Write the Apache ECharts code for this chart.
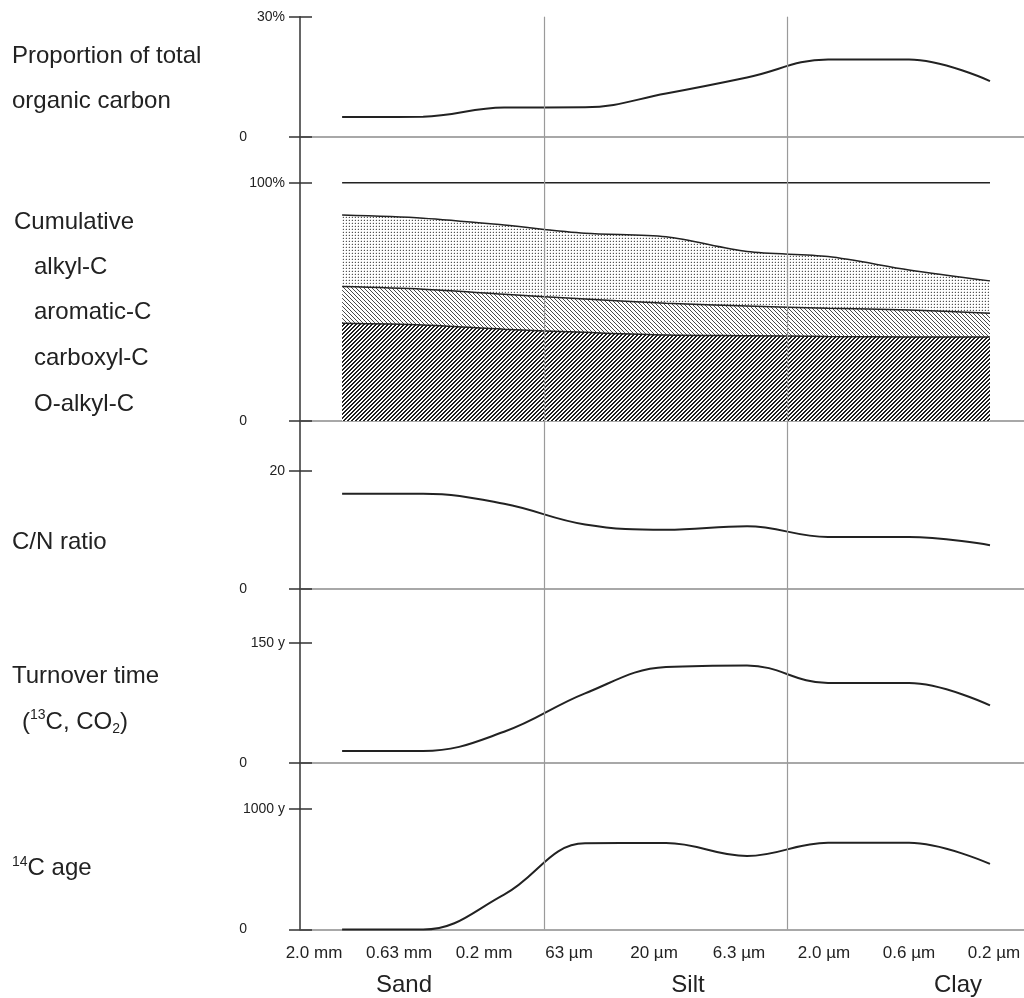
<!DOCTYPE html>
<html>
<head>
<meta charset="utf-8">
<script src="https://cdn.jsdelivr.net/npm/echarts@6/dist/echarts.min.js"></script>
<style>
html,body{margin:0;padding:0;background:#fff;}
#chart{width:1024px;height:998px;}
</style>
</head>
<body>
<div id="chart"></div>
<script>
// ---- data ----
const sizeLabels = ['2.0 mm', '0.63 mm', '0.2 mm', '63 µm', '20 µm', '6.3 µm', '2.0 µm', '0.6 µm', '0.2 µm'];
const fractionIndex = [0, 1, 2, 3, 4, 5, 6, 7, 8];
const classNames = ['Sand', 'Silt', 'Clay'];
const classBoundaries = [2.5, 5.5];

const tocShare = [4.9, 5.0, 7.3, 7.35, 10.8, 14.8, 19.3, 19.3, 13.9];           // % of total OC
// cumulative carbon species, % (read as the boundary lines of the bands)
const cumAlkylC = [100, 100, 100, 100, 100, 100, 100, 100, 100];
const cumAromaticC = [86.4, 85.1, 82.2, 78.8, 77.3, 71.1, 69.0, 63.4, 58.8];
const cumCarboxylC = [56.4, 55.3, 53.2, 51.2, 49.4, 48.3, 47.3, 46.6, 45.2];
const cumOAlkylC = [41.0, 40.3, 38.5, 37.2, 36.1, 35.8, 35.5, 35.3, 35.2];
const cnRatio = [16.1, 16.1, 14.4, 10.9, 10.0, 10.6, 8.8, 8.8, 7.4];
const turnoverYears = [15, 15, 39, 87, 120, 122, 100, 100, 72];
const c14AgeYears = [0, 0, 290, 715, 718, 610, 720, 720, 544];

const yTicks = [[0, 30], [0, 100], [0, 20], [0, 150], [0, 1000]];
const yTopLabels = ['30%', '100%', '20', '150 y', '1000 y'];

// ---- patterns ----
function makeTile(w, h, draw) {
  const c = document.createElement('canvas');
  c.width = w; c.height = h;
  const ctx = c.getContext('2d');
  ctx.fillStyle = '#ffffff';
  ctx.fillRect(0, 0, w, h);
  draw(ctx);
  return { image: c, repeat: 'repeat' };
}
const dotPattern = makeTile(3, 3, ctx => {
  ctx.fillStyle = '#555555';
  ctx.fillRect(1, 1, 1, 1);
  ctx.fillStyle = '#dddddd';
  ctx.fillRect(0, 1, 1, 1);
  ctx.fillRect(1, 0, 1, 1);
});
const lightHatch = makeTile(4, 4, ctx => {
  ctx.fillStyle = '#4a4a4a';
  for (let i = 0; i < 4; i++) ctx.fillRect(i, i, 1, 1);
});
const darkHatch = makeTile(4, 4, ctx => {
  ctx.fillStyle = '#1e1e1e';
  for (let i = 0; i < 4; i++) {
    ctx.fillRect(i, 3 - i, 1, 1);
    ctx.fillRect(i, (4 - i) % 4, 1, 1);
  }
});

// ---- layout ----
const panels = [
  { top: 16.7, height: 120, max: 30 },
  { top: 136.7, height: 284.3, max: 119.3 },
  { top: 421, height: 168, max: 28.4 },
  { top: 589, height: 174, max: 217.5 },
  { top: 763, height: 166.5, max: 1381.7 }
];
const font = 'Liberation Sans, Arial, sans-serif';
const ink = '#222';
const boundaryColor = '#9a9a9a';

const grid = panels.map(p => ({ left: 300, width: 724, top: p.top, height: p.height }));
grid.push({ left: 314, right: 30, top: 763, height: 166.5 });

const xAxis = panels.map((p, i) => ({
  type: 'value', gridIndex: i, min: -0.52, max: 8.42,
  axisLine: { show: true, onZero: true, lineStyle: { color: '#8c8c8c', width: 1.5 } },
  axisTick: { show: false }, axisLabel: { show: false }, splitLine: { show: false }
}));
xAxis.push({
  type: 'category', gridIndex: 5, data: sizeLabels, boundaryGap: false,
  axisLine: { show: false }, axisTick: { show: false },
  axisLabel: { show: true, interval: 0, fontSize: 17, fontFamily: font, color: ink, margin: 15 }
});

const yAxis = [];
panels.forEach((p, i) => {
  yAxis.push({
    type: 'value', gridIndex: i, min: 0, max: p.max, position: 'left',
    axisLine: { show: true, onZero: false, lineStyle: { color: '#333', width: 1.5 } },
    axisTick: { show: true, customValues: yTicks[i], length: 11, lineStyle: { color: '#333', width: 1.5 } },
    axisLabel: {
      show: true, customValues: yTicks[i], margin: 15, fontSize: 14, fontFamily: font, color: ink,
      formatter: v => v === 0 ? '{z|0}' : yTopLabels[i],
      rich: { z: { padding: [0, 38, 0, 0], fontSize: 14, fontFamily: font, color: ink } }
    },
    splitLine: { show: false }
  });
  yAxis.push({
    type: 'value', gridIndex: i, min: 0, max: p.max, position: 'left', offset: 0,
    axisLine: { show: false, onZero: false },
    axisTick: { show: true, inside: true, customValues: yTicks[i], length: 12, lineStyle: { color: '#333', width: 1.5 } },
    axisLabel: { show: false }, splitLine: { show: false }
  });
});
yAxis.push({ type: 'value', gridIndex: 5, show: false, min: 0, max: 1 });

const boundaryMark = {
  silent: true, symbol: ['none', 'none'], animation: false,
  label: { show: false },
  lineStyle: { color: boundaryColor, width: 1.2, type: 'solid' },
  data: classBoundaries.map(b => ({ xAxis: b }))
};

const pairs = arr => arr.map((v, k) => [fractionIndex[k], v]);
function lineSeries(idx, data, extra) {
  return Object.assign({
    type: 'line', xAxisIndex: idx, yAxisIndex: idx * 2, data: pairs(data),
    smooth: 0.4, symbol: 'none', clip: false,
    lineStyle: { color: ink, width: 2 }, markLine: boundaryMark
  }, extra || {});
}
const bandLine = { color: ink, width: 1.5 };

const series = [
  lineSeries(0, tocShare, { name: 'Proportion of total organic carbon' }),
  lineSeries(1, cumAlkylC, { name: 'alkyl-C', z: 2, markLine: undefined, lineStyle: bandLine }),
  lineSeries(1, cumAromaticC, { name: 'aromatic-C', z: 3, smooth: 0.3, markLine: undefined,
    lineStyle: bandLine, areaStyle: { color: dotPattern, opacity: 1, origin: 'start' } }),
  lineSeries(1, cumCarboxylC, { name: 'carboxyl-C', z: 4, smooth: 0.3, markLine: undefined,
    lineStyle: bandLine, areaStyle: { color: lightHatch, opacity: 1, origin: 'start' } }),
  lineSeries(1, cumOAlkylC, { name: 'O-alkyl-C', z: 5, smooth: 0.3, markLine: undefined,
    lineStyle: bandLine, areaStyle: { color: darkHatch, opacity: 1, origin: 'start' } }),
  lineSeries(2, cnRatio, { name: 'C/N ratio' }),
  lineSeries(3, turnoverYears, { name: 'Turnover time' }),
  lineSeries(4, c14AgeYears, { name: '14C age' })
];
// class boundaries over the cumulative bands (panel 2)
classBoundaries.forEach(b => {
  series.push({
    type: 'line', xAxisIndex: 1, yAxisIndex: 2, z: 10, silent: true,
    data: [[b, 0], [b, panels[1].max]], symbol: 'none', clip: false,
    lineStyle: { color: boundaryColor, width: 1.2 }
  });
});

function txt(x, y, text, opts) {
  return {
    type: 'text', x: x, y: y, silent: true,
    style: Object.assign({
      text: text, fontSize: 24, fontFamily: font, fill: ink, verticalAlign: 'middle',
      rich: {
        sup: { fontSize: 14, fontFamily: font, fill: ink, verticalAlign: 'top', padding: [0, 0, 12, 0] },
        sub: { fontSize: 14, fontFamily: font, fill: ink, padding: [14, 0, 0, 0] }
      }
    }, opts || {})
  };
}
const graphic = [
  txt(12, 56, 'Proportion of total'),
  txt(12, 101, 'organic carbon'),
  txt(14, 222, 'Cumulative'),
  txt(34, 267, 'alkyl-C'),
  txt(34, 312, 'aromatic-C'),
  txt(34, 358, 'carboxyl-C'),
  txt(34, 404, 'O-alkyl-C'),
  txt(12, 542, 'C/N ratio'),
  txt(12, 676, 'Turnover time'),
  txt(22, 722, '({sup|13}C, CO{sub|2})'),
  txt(12, 868, '{sup|14}C age'),
  txt(404, 985, classNames[0], { align: 'center' }),
  txt(688, 985, classNames[1], { align: 'center' }),
  txt(958, 985, classNames[2], { align: 'center' })
];

const chart = echarts.init(document.getElementById('chart'), null, { renderer: 'canvas' });
chart.setOption({
  animation: false,
  backgroundColor: '#ffffff',
  grid: grid, xAxis: xAxis, yAxis: yAxis, series: series, graphic: graphic
});
</script>
</body>
</html>
